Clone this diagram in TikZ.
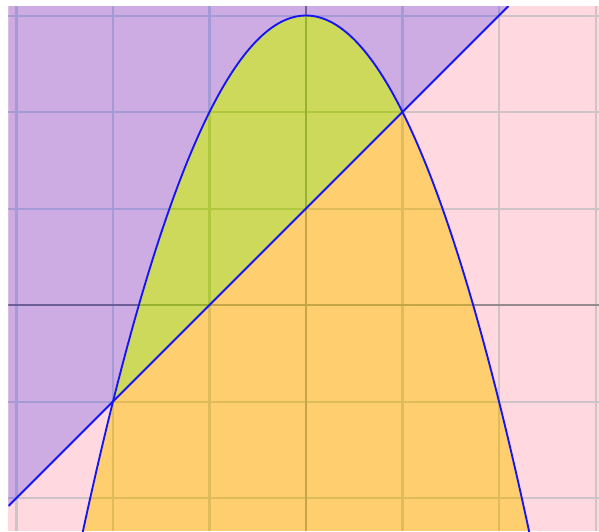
\documentclass[tikz,border=0pt]{standalone}
\definecolor{pinkbg}{RGB}{255,217,223}
\definecolor{pinkgrid}{RGB}{206,196,200}
\definecolor{pinkaxis}{RGB}{150,138,142}
\definecolor{purplebg}{RGB}{205,171,227}
\definecolor{purplegrid}{RGB}{164,154,214}
\definecolor{purpleaxis}{RGB}{108,94,150}
\definecolor{orangebg}{RGB}{255,206,110}
\definecolor{orangegrid}{RGB}{222,188,92}
\definecolor{orangeaxis}{RGB}{196,166,72}
\definecolor{greenbg}{RGB}{204,217,90}
\definecolor{greengrid}{RGB}{176,200,62}
\definecolor{greenaxis}{RGB}{150,178,48}
\definecolor{curveblue}{RGB}{20,20,245}
\tikzset{
  gridl/.style={line width=0.6pt},
  axisl/.style={line width=0.65pt},
  curve/.style={draw=curveblue, line width=0.55pt},
}
\newcommand{\paintzone}[3]{%
  \fill[#1] (-3.083,-2.342) rectangle (3.036,3.098);
  \foreach \gx in {-3,-2,-1,1,2,3} {\draw[gridl,#2] (\gx,-2.342) -- (\gx,3.098);}
  \foreach \gy in {-2,-1,1,2,3} {\draw[gridl,#2] (-3.083,\gy) -- (3.036,\gy);}
  \draw[axisl,#3] (-3.083,0) -- (3.036,0);
  \draw[axisl,#3] (0,-2.342) -- (0,3.098);
}
\begin{document}
\begin{tikzpicture}
\useasboundingbox[fill=white] (-3.171,-2.342) rectangle (3.036,3.161);
\coordinate (L1) at (-3.083,-2.083);
\coordinate (L2) at (2.098,3.098);
% pink base
\begin{scope}
  \paintzone{pinkbg}{pinkgrid}{pinkaxis}
\end{scope}
% above the line
\begin{scope}
  \clip (L1) -- (L2) -- (-3.083,3.098) -- cycle;
  \paintzone{purplebg}{purplegrid}{purpleaxis}
\end{scope}
% inside the parabola
\begin{scope}
  \clip plot[domain=-2.32:2.32, samples=120] (\x,{3-\x*\x}) -- cycle;
  \paintzone{orangebg}{orangegrid}{orangeaxis}
\end{scope}
% both
\begin{scope}
  \clip plot[domain=-2.32:2.32, samples=120] (\x,{3-\x*\x}) -- cycle;
  \clip (L1) -- (L2) -- (-3.083,3.098) -- cycle;
  \paintzone{greenbg}{greengrid}{greenaxis}
\end{scope}
% curves
\begin{scope}
  \clip (-3.083,-2.342) rectangle (3.036,3.098);
  \draw[curve] (L1) -- (L2);
  \draw[curve] plot[domain=-2.32:2.32, samples=160, smooth] (\x,{3-\x*\x});
\end{scope}
\end{tikzpicture}
\end{document}
